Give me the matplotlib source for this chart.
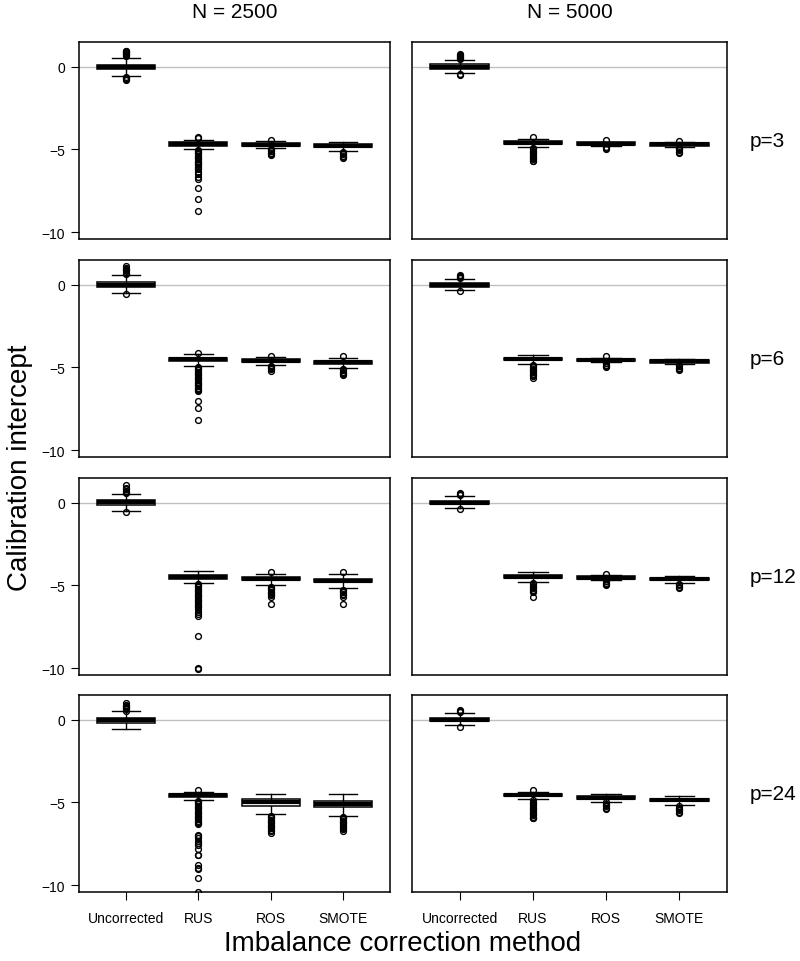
import matplotlib
matplotlib.use("Agg")
import matplotlib.pyplot as plt

plt.rcParams['font.family'] = ['Liberation Sans', 'DejaVu Sans']

methods = ["Uncorrected", "RUS", "ROS", "SMOTE"]
p_labels = ["p=3", "p=6", "p=12", "p=24"]
n_labels = ["N = 2500", "N = 5000"]

# box statistics, rows = p, cols = method
med_2500 = [[-0.03, -4.67, -4.71, -4.77],
            [0.00, -4.50, -4.60, -4.70],
            [0.02, -4.47, -4.60, -4.72],
            [-0.05, -4.57, -5.00, -5.10]]
q1_2500 = [[-0.15, -4.79, -4.80, -4.84],
           [-0.12, -4.62, -4.68, -4.78],
           [-0.12, -4.60, -4.70, -4.82],
           [-0.20, -4.69, -5.20, -5.30]]
q3_2500 = [[0.10, -4.58, -4.60, -4.70],
           [0.17, -4.40, -4.52, -4.63],
           [0.18, -4.38, -4.50, -4.62],
           [0.12, -4.48, -4.82, -4.92]]
lo_2500 = [[-0.56, -4.97, -4.93, -5.07],
           [-0.50, -4.90, -4.84, -5.04],
           [-0.48, -4.83, -4.97, -5.15],
           [-0.54, -4.83, -5.72, -5.82]]
hi_2500 = [[0.54, -4.41, -4.50, -4.53],
           [0.60, -4.17, -4.36, -4.40],
           [0.52, -4.10, -4.33, -4.33],
           [0.50, -4.35, -4.51, -4.51]]
fliers_2500 = [
    [[0.62, 0.68, 0.74, 0.80, 0.86, 0.92, 0.97, -0.60, -0.66, -0.72, -0.79],
     [-4.25, -4.32, -5.05, -5.10, -5.15, -5.22, -5.30, -5.38, -5.45, -5.52,
      -5.60, -5.68, -5.75, -5.82, -5.90, -5.97, -6.05, -6.12, -6.20, -6.35,
      -6.50, -6.65, -6.80, -7.35, -7.98, -8.74],
     [-4.42, -4.98, -5.05, -5.12, -5.20, -5.27, -5.33],
     [-5.15, -5.22, -5.30, -5.37, -5.45, -5.50]],
    [[0.65, 0.72, 0.80, 0.88, 0.95, 1.03, 1.12, -0.55],
     [-4.13, -4.95, -5.02, -5.10, -5.17, -5.25, -5.32, -5.40, -5.47, -5.55,
      -5.62, -5.70, -5.77, -5.85, -5.92, -6.00, -6.07, -6.15, -6.22, -6.30,
      -6.37, -6.45, -7.05, -7.45, -8.20],
     [-4.30, -4.90, -4.97, -5.05, -5.12, -5.20],
     [-4.33, -5.10, -5.18, -5.25, -5.32, -5.40, -5.45]],
    [[0.58, 0.65, 0.72, 0.80, 0.88, 1.05, -0.54],
     [-4.90, -4.97, -5.05, -5.12, -5.20, -5.27, -5.35, -5.42, -5.50, -5.57,
      -5.65, -5.72, -5.80, -5.87, -5.95, -6.02, -6.10, -6.17, -6.25, -6.32,
      -6.40, -6.58, -6.70, -6.85, -8.05, -10.00, -10.05],
     [-4.17, -5.07, -5.15, -5.22, -5.30, -5.37, -5.45, -5.52, -5.60, -5.67,
      -6.13],
     [-4.21, -5.25, -5.33, -5.42, -5.50, -5.60, -5.70, -6.13]],
    [[0.55, 0.62, 0.68, 0.75, 0.82, 0.90, 0.98],
     [-4.25, -4.90, -4.97, -5.05, -5.12, -5.20, -5.27, -5.35, -5.42, -5.50,
      -5.57, -5.65, -5.72, -5.80, -5.87, -5.95, -6.02, -6.10, -6.17, -6.25,
      -6.30, -6.95, -7.05, -7.15, -7.30, -7.45, -7.60, -7.80, -8.15, -8.20,
      -8.75, -8.95, -9.05, -9.55, -10.38],
     [-5.82, -5.90, -5.97, -6.05, -6.12, -6.20, -6.27, -6.35, -6.42, -6.50,
      -6.57, -6.65, -6.72, -6.82],
     [-5.88, -5.95, -6.02, -6.10, -6.17, -6.25, -6.32, -6.40, -6.47, -6.55,
      -6.62, -6.70]],
]

med_5000 = [[0.00, -4.61, -4.65, -4.69],
            [0.00, -4.50, -4.55, -4.64],
            [0.00, -4.47, -4.53, -4.63],
            [0.00, -4.55, -4.71, -4.86]]
q1_5000 = [[-0.12, -4.70, -4.72, -4.77],
           [-0.12, -4.58, -4.62, -4.72],
           [-0.10, -4.56, -4.63, -4.70],
           [-0.08, -4.63, -4.78, -4.93]]
q3_5000 = [[0.14, -4.52, -4.58, -4.61],
           [0.12, -4.42, -4.48, -4.55],
           [0.10, -4.38, -4.43, -4.56],
           [0.08, -4.47, -4.64, -4.78]]
lo_5000 = [[-0.38, -4.87, -4.80, -4.84],
           [-0.30, -4.79, -4.70, -4.79],
           [-0.34, -4.79, -4.70, -4.87],
           [-0.35, -4.82, -4.95, -5.18]]
hi_5000 = [[0.42, -4.37, -4.53, -4.55],
           [0.36, -4.27, -4.40, -4.46],
           [0.40, -4.17, -4.36, -4.43],
           [0.40, -4.35, -4.51, -4.61]]
fliers_5000 = [
    [[0.47, 0.53, 0.60, 0.66, 0.72, 0.77, -0.44, -0.50],
     [-4.23, -4.93, -5.00, -5.08, -5.15, -5.23, -5.30, -5.38, -5.45, -5.53,
      -5.60, -5.67, -5.72],
     [-4.45, -4.85, -4.92, -5.00],
     [-4.47, -4.90, -4.98, -5.06, -5.14, -5.20]],
    [[0.42, 0.48, 0.55, 0.60, -0.38],
     [-4.85, -4.92, -5.00, -5.07, -5.15, -5.22, -5.30, -5.37, -5.45, -5.52,
      -5.62],
     [-4.33, -4.76, -4.84, -4.92, -5.00],
     [-4.85, -4.93, -5.01, -5.09, -5.17]],
    [[0.45, 0.52, 0.60, -0.38],
     [-4.87, -4.94, -5.02, -5.10, -5.17, -5.25, -5.32, -5.37, -5.71],
     [-4.31, -4.76, -4.84, -4.90, -4.97],
     [-4.93, -5.00, -5.08, -5.17]],
    [[0.45, 0.52, 0.60, -0.45],
     [-4.25, -4.88, -4.95, -5.03, -5.10, -5.18, -5.25, -5.33, -5.40, -5.48,
      -5.55, -5.63, -5.70, -5.78, -5.85, -5.92, -5.96],
     [-5.00, -5.08, -5.16, -5.24, -5.32, -5.42],
     [-5.24, -5.32, -5.40, -5.48, -5.56, -5.62]],
]

W, H = 800, 962
fig = plt.figure(figsize=(W / 100, H / 100), dpi=100)

col_x = [(79, 390), (412, 727)]
row_top = [43, 261, 479, 696]
row_h = 197

columns = [
    (med_2500, q1_2500, q3_2500, lo_2500, hi_2500, fliers_2500),
    (med_5000, q1_5000, q3_5000, lo_5000, hi_5000, fliers_5000),
]

for c, (med, q1, q3, lo, hi, fl) in enumerate(columns):
    x0, x1 = col_x[c]
    for r in range(4):
        ax = fig.add_axes([x0 / W, 1 - (row_top[r] + row_h) / H,
                           (x1 - x0) / W, row_h / H])
        stats = []
        for m in range(4):
            stats.append(dict(med=med[r][m], q1=q1[r][m], q3=q3[r][m],
                              whislo=lo[r][m], whishi=hi[r][m],
                              fliers=fl[r][m]))
        ax.axhline(0, color='#c0c0c0', lw=1, zorder=0)
        ax.bxp(stats, positions=[1, 2, 3, 4], widths=0.8, capwidths=0.4,
               patch_artist=True, showfliers=True,
               boxprops=dict(facecolor='white', edgecolor='black', lw=1.1),
               medianprops=dict(color='black', lw=3, solid_capstyle='butt'),
               whiskerprops=dict(color='black', lw=1),
               capprops=dict(color='black', lw=1),
               flierprops=dict(marker='o', markerfacecolor='none',
                               markeredgecolor='black', markersize=4.2,
                               markeredgewidth=1.0))
        ax.set_xlim(0.35, 4.65)
        ax.set_ylim(-10.41, 1.49)
        for s in ax.spines.values():
            s.set_linewidth(1.1)
        ax.tick_params(direction='out', length=6, width=0.8, pad=4,
                       labelsize=10)
        if c == 0:
            ax.set_yticks([0, -5, -10])
            ax.set_yticklabels(['0', '\u22125', '\u221210'])
        else:
            ax.set_yticks([])
        if r == 3:
            ax.set_xticks([1, 2, 3, 4])
            ax.set_xticklabels(methods)
            ax.tick_params(axis='x', pad=8)
        else:
            ax.set_xticks([])
        if r == 0:
            fig.text((x0 + x1) / 2 / W, 1 - 12 / H, n_labels[c],
                     ha='center', va='center', fontsize=15)
        if c == 1:
            fig.text(750 / W, 1 - (row_top[r] + row_h / 2) / H, p_labels[r],
                     ha='left', va='center', fontsize=15)

fig.text(20 / W, 1 - 468 / H, 'Calibration intercept', rotation=90,
         ha='center', va='center', fontsize=20)
fig.text(403 / W, 1 - 944 / H, 'Imbalance correction method',
         ha='center', va='center', fontsize=20)

fig.savefig('out.png', dpi=100)
